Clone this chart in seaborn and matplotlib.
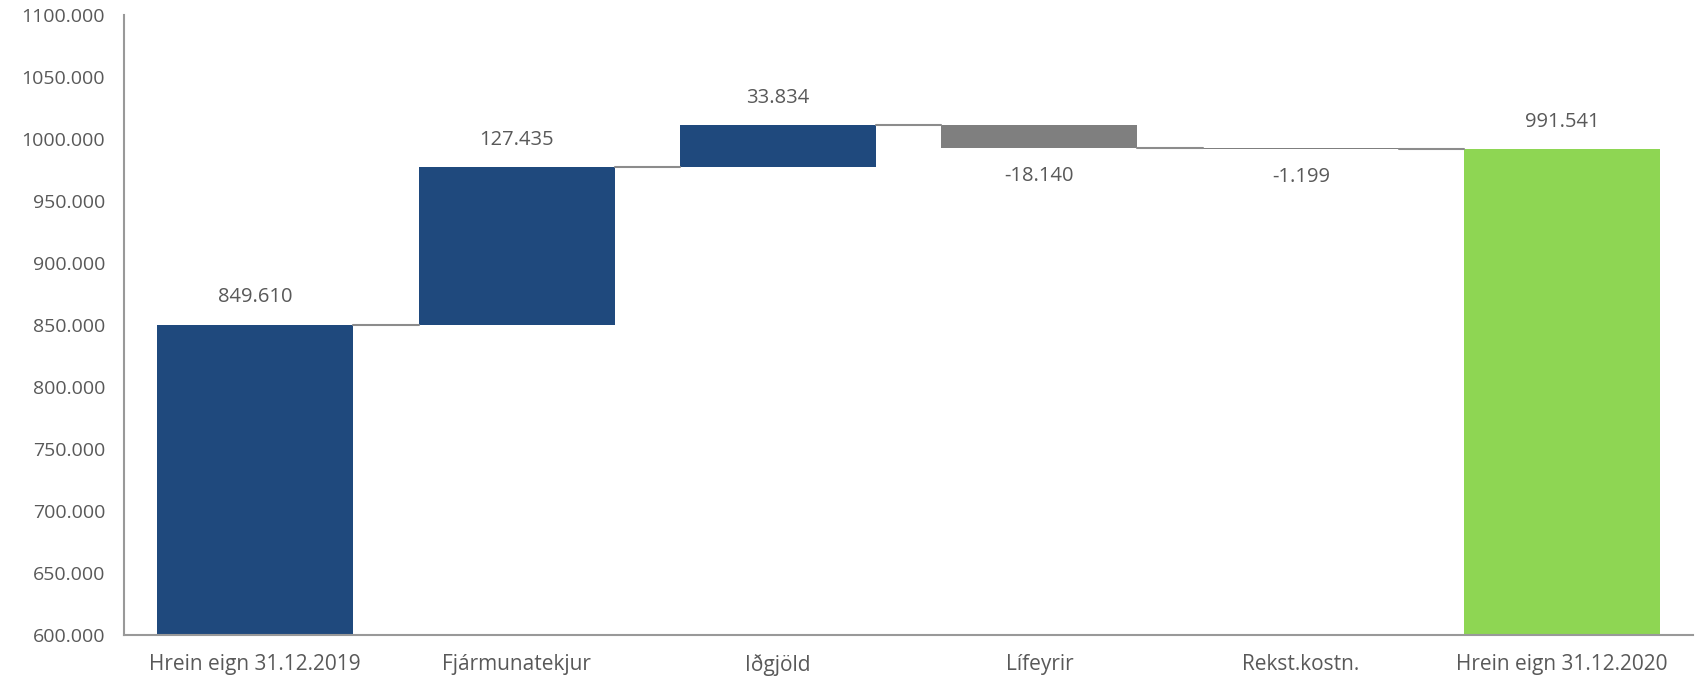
import pandas as pd
import seaborn as sns
import matplotlib.pyplot as plt
import numpy as np

categories = ['Hrein eign 31.12.2019', 'Fjármunatekjur', 'Iðgjöld', 'Lífeyrir', 'Rekst.kostn.', 'Hrein eign 31.12.2020']
values = [849.610, 127.435, 33.834, -18.140, -1.199, 991.541]
labels = ['849.610', '127.435', '33.834', '-18.140', '-1.199', '991.541']
is_total = [True, False, False, False, False, True]
colors = ['#1F497D', '#1F497D', '#1F497D', '#7F7F7F', '#7F7F7F', '#8ED653']
yticks = [600, 650, 700, 750, 800, 850, 900, 950, 1000, 1050, 1100]

#Running totals for the waterfall
bottoms = []
heights = []
level = 0
for v, tot in zip(values, is_total):
    if tot:
        bottoms.append(0)
        heights.append(v)
        level = v
    else:
        bottoms.append(level if v >= 0 else level + v)
        heights.append(abs(v))
        level = level + v
df = pd.DataFrame({'cat': categories, 'height': heights, 'bottom': bottoms})

sns.set_style('white')
plt.rcParams['font.family'] = ['Open Sans', 'DejaVu Sans']
txt = '#595959'

fig, ax = plt.subplots(figsize=(16.98, 6.78), dpi=100)
fig.subplots_adjust(left=0.0733, right=0.997, top=0.978, bottom=0.064)
sns.barplot(data=df, x='cat', y='height', bottom=bottoms, width=0.75, ax=ax,
            color=colors[0], saturation=1, errorbar=None, linewidth=0)
for patch, c in zip(ax.patches, colors):
    patch.set_facecolor(c)

#Connector lines between bars
level = 0
for i, (v, tot) in enumerate(zip(values, is_total)):
    level = v if tot else level + v
    if i < len(values) - 1:
        ax.plot([i + 0.375, i + 1 - 0.375], [level, level], color='#8C8C8C', lw=1.5, zorder=3)

#Value labels
for i, (v, lab) in enumerate(zip(values, labels)):
    b, h = bottoms[i], heights[i]
    if v >= 0:
        ax.annotate(lab, (i, b + h), xytext=(0, 20), textcoords='offset points',
                    ha='center', va='center', fontsize=14.5, color=txt)
    else:
        ax.annotate(lab, (i, b), xytext=(0, -20), textcoords='offset points',
                    ha='center', va='center', fontsize=14.5, color=txt)

ax.set_ylim(600, 1100)
ax.set_xlim(-0.5, 5.5)
ax.set_yticks(yticks)
ax.set_yticklabels([f'{t}.000' for t in yticks])
ax.set_xlabel('')
ax.set_ylabel('')
ax.tick_params(axis='both', length=0, labelsize=14, labelcolor=txt)
ax.tick_params(axis='y', pad=14)
ax.tick_params(axis='x', pad=14, labelsize=15)
for s in ['top', 'right']:
    ax.spines[s].set_visible(False)
for s in ['left', 'bottom']:
    ax.spines[s].set_color('#999999')
    ax.spines[s].set_linewidth(1.5)

plt.savefig('out.png', dpi=100)
